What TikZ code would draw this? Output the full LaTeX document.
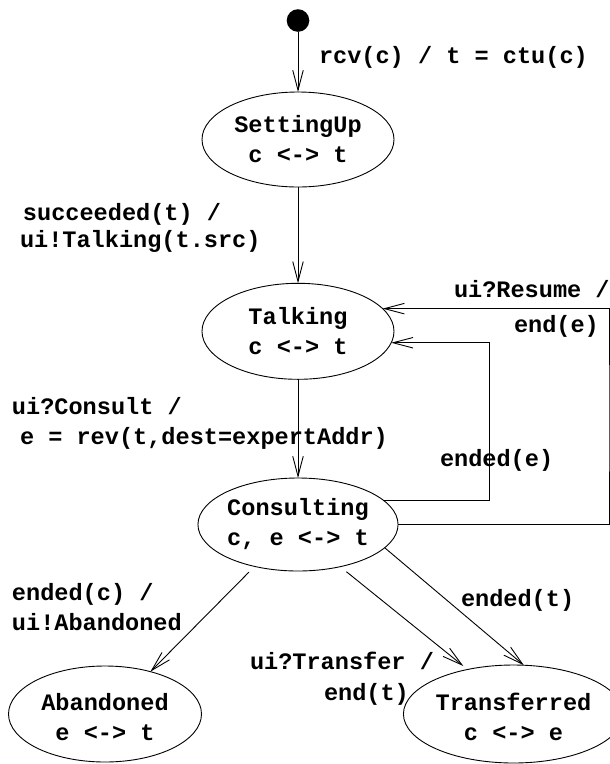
\documentclass[tikz,border=0pt]{standalone}
\usepackage{fontspec}
\setmainfont{Liberation Mono}
\usetikzlibrary{arrows.meta,shapes.geometric}
\begin{document}
\begin{tikzpicture}[x=1pt,y=-1pt,
  every node/.style={font=\fontsize{23.58}{30}\selectfont\bfseries, inner sep=0pt, outer sep=0pt},
  state/.style={draw, ellipse, line width=0.9pt, align=center, minimum width=192pt},
  lbl/.style={anchor=base west},
  arr/.style={line width=0.9pt, -{Straight Barb[length=20pt,width=10.5pt]}}]
\useasboundingbox (0,0) rectangle (610,764);

% states
\node[circle, fill, minimum size=22.6pt] (init) at (298,20.5) {};
\node[state, minimum height=95pt] (setup) at (298,139.5) {SettingUp\\c <-> t};
\node[state, minimum height=96pt] (talk) at (298,331.3) {Talking\\c <-> t};
\node[state, minimum height=93pt] (cons) at (298,524.5) {Consulting\\c, e <-> t};
\node[state, minimum height=96pt, minimum width=193pt] (aband) at (105,714) {\rule{0pt}{24pt}Abandoned\\e <-> t};
\node[state, minimum height=98pt] (trans) at (513.5,714) {\rule{0pt}{24pt}Transferred\\c <-> e};

% helper points for the loops and the open arrow end
\coordinate (innerx) at (489.3,420);
\coordinate (outerx) at (609,420);
\coordinate (tin) at (463.3,666);

% transitions
\draw[arr] (init) -- (setup);
\draw[arr] (setup) -- (talk);
\draw[arr] (talk) -- (cons);
\draw[arr] (cons.16.7) -| (innerx) |- (talk.-7.2);
\draw[arr] (cons.east) -| (outerx) |- (talk.15.9);
\draw[arr, shorten <=8pt] (cons.224.5) -- (aband.43.8);
\draw[arr, shorten <=8pt] (cons.-45) -- (tin);
\draw[arr] (cons.-15.9) -- (trans.78);

% transition labels
\node[lbl] (l1) at (319,63) {rcv(c) / t = ctu(c)};
\node[lbl] (l2a) at (23,220) {succeeded(t) /};
\node[lbl] (l2b) at (20,247) {ui!Talking(t.src)};
\node[lbl] (l3a) at (454,297) {ui?Resume /};
\node[lbl] (l3b) at (514,332) {end(e)};
\node[lbl] (l4a) at (12,414) {ui?Consult /};
\node[lbl] (l4b) at (20,444) {e = rev(t,dest=expertAddr)};
\node[lbl] (l5) at (440,466) {ended(e)};
\node[lbl] (l6a) at (12,600) {ended(c) /};
\node[lbl] (l6b) at (12,630) {ui!Abandoned};
\node[lbl] (l7) at (461,606) {ended(t)};
\node[lbl] (l8a) at (250,669) {ui?Transfer /};
\node[lbl] (l8b) at (324,700) {end(t)};
\end{tikzpicture}
\end{document}
